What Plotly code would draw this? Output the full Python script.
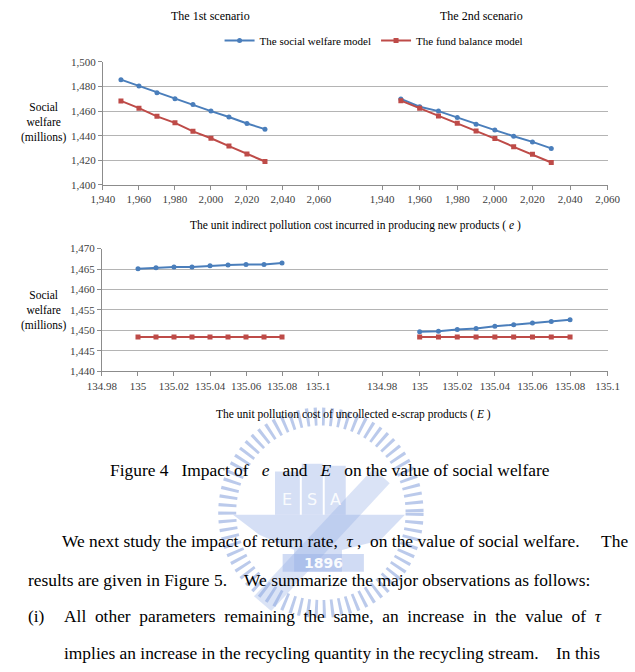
import plotly.graph_objects as go

W, H = 635, 672

# ---------------- data ----------------
e_vals = [1950, 1960, 1970, 1980, 1990, 2000, 2010, 2020, 2030]
s1_e_social = [1485.6, 1480.5, 1474.9, 1470.1, 1465.3, 1460.0, 1455.2, 1449.9, 1445.3]
s1_e_fund = [1468.3, 1462.4, 1455.7, 1450.4, 1443.5, 1437.9, 1431.5, 1425.1, 1418.9]
s2_e_social = [1469.9, 1463.5, 1460.0, 1454.7, 1449.3, 1444.5, 1439.5, 1434.9, 1429.6]
s2_e_fund = [1468.5, 1462.4, 1456.0, 1450.1, 1443.7, 1437.6, 1430.9, 1424.8, 1418.1]

E_vals = [135.00, 135.01, 135.02, 135.03, 135.04, 135.05, 135.06, 135.07, 135.08]
s1_E_social = [1465.1, 1465.3, 1465.5, 1465.5, 1465.8, 1466.0, 1466.1, 1466.1, 1466.5]
s1_E_fund = [1448.4, 1448.4, 1448.4, 1448.4, 1448.4, 1448.4, 1448.4, 1448.4, 1448.4]
s2_E_social = [1449.7, 1449.8, 1450.2, 1450.5, 1451.0, 1451.4, 1451.8, 1452.2, 1452.6]
s2_E_fund = [1448.4, 1448.4, 1448.4, 1448.4, 1448.4, 1448.4, 1448.4, 1448.4, 1448.4]

e_ticks = [1940, 1960, 1980, 2000, 2020, 2040, 2060]
E_ticks = [134.98, 135.00, 135.02, 135.04, 135.06, 135.08, 135.10]
E_ticktext = ["134.98", "135", "135.02", "135.04", "135.06", "135.08", "135.1"]
top_yticks = [1400, 1420, 1440, 1460, 1480, 1500]
bot_yticks = [1440, 1445, 1450, 1455, 1460, 1465, 1470]

series_names = ["The social welfare model", "The fund balance model"]
BLUE = "#4A7EBB"
RED = "#BE4B48"

def px(x):
    return x / W

def py(y):
    return 1 - y / H

fig = go.Figure()

panels = [
    ("x", "y", e_vals, s1_e_social, s1_e_fund, True),
    ("x2", "y2", e_vals, s2_e_social, s2_e_fund, False),
    ("x3", "y3", E_vals, s1_E_social, s1_E_fund, False),
    ("x4", "y4", E_vals, s2_E_social, s2_E_fund, False),
]
for xa, ya, xs, soc, fund, leg in panels:
    fig.add_trace(go.Scatter(x=xs, y=soc, xaxis=xa, yaxis=ya, mode="lines+markers",
                             name=series_names[0], showlegend=leg,
                             line=dict(color=BLUE, width=2),
                             marker=dict(symbol="circle", size=5, color=BLUE)))
    fig.add_trace(go.Scatter(x=xs, y=fund, xaxis=xa, yaxis=ya, mode="lines+markers",
                             name=series_names[1], showlegend=leg,
                             line=dict(color=RED, width=2),
                             marker=dict(symbol="square", size=5, color=RED)))

tickfont = dict(family="Liberation Serif", size=11, color="#404040")
GRID = "#B4B4B4"
AXL = "#8C8C8C"

def xaxis(dom, rng, tv, tt=None, anchor="y", fmt=",d"):
    d = dict(domain=dom, range=rng, tickvals=tv, showgrid=False, zeroline=False,
             showline=True, linecolor=AXL, linewidth=1, ticks="outside", ticklen=4,
             tickcolor=AXL, tickfont=tickfont, anchor=anchor, fixedrange=True)
    if tt is not None:
        d["ticktext"] = tt
    else:
        d["tickformat"] = fmt
    return d

def yaxis(dom, rng, tv, anchor, showlabels=True):
    return dict(domain=dom, range=rng, tickvals=tv, showgrid=True, gridcolor=GRID,
                gridwidth=1, zeroline=False, showline=showlabels, linecolor=AXL,
                ticks="outside" if showlabels else "", ticklen=4, tickcolor=AXL,
                showticklabels=showlabels, tickformat=",d", tickfont=tickfont,
                anchor=anchor, fixedrange=True)

xl, xm, xr = 92, 384, 620
top_dom = [py(182), py(57)]
bot_dom = [py(372), py(247)]

# left panels extend across the gap so gridlines run continuously
left_e_max = 1940 + (xm - xl) / ((318 - 92) / 120)
left_E_max = 134.98 + (xm - 91) / ((317 - 91) / 0.12)

fig.update_layout(
    xaxis=xaxis([px(xl), px(xm)], [1940, left_e_max], e_ticks, anchor="y"),
    xaxis2=xaxis([px(xm), px(xr)], [1940, 2060], e_ticks, anchor="y2"),
    xaxis3=xaxis([px(91), px(xm)], [134.98, left_E_max], E_ticks, E_ticktext, anchor="y3"),
    xaxis4=xaxis([px(xm), px(xr)], [134.98, 135.10], E_ticks, E_ticktext, anchor="y4"),
    yaxis=yaxis(top_dom, [1400, 1500], top_yticks, "x"),
    yaxis2=yaxis(top_dom, [1400, 1500], top_yticks, "x2", False),
    yaxis3=yaxis(bot_dom, [1440, 1470], bot_yticks, "x3"),
    yaxis4=yaxis(bot_dom, [1440, 1470], bot_yticks, "x4", False),
)

# ---------- watermark emblem (faint) ----------
cx, cy, r = 320, 516, 98
WM = "rgba(120,150,215,0.50)"
FILL = "rgba(150,175,230,0.40)"
shapes = [
    dict(type="circle", xref="paper", yref="paper", layer="below",
         x0=px(cx - r), x1=px(cx + r), y0=py(cy + r), y1=py(cy - r),
         line=dict(color=WM, width=18, dash="3px,5px")),
    # anvil
    dict(type="path", xref="paper", yref="paper", layer="below",
         path=f"M {px(cx-92)},{py(cy+2)} L {px(cx+88)},{py(cy+2)} L {px(cx+62)},{py(cy+28)} "
              f"L {px(cx+22)},{py(cy+38)} L {px(cx+22)},{py(cy+60)} L {px(cx-28)},{py(cy+60)} "
              f"L {px(cx-28)},{py(cy+38)} L {px(cx-65)},{py(cy+22)} Z",
         fillcolor=FILL, line=dict(width=0)),
    # books
    dict(type="rect", xref="paper", yref="paper", layer="below",
         x0=px(cx - 48), x1=px(cx - 22), y0=py(cy + 2), y1=py(cy - 42),
         fillcolor=FILL, line=dict(width=0)),
    dict(type="rect", xref="paper", yref="paper", layer="below",
         x0=px(cx - 20), x1=px(cx + 2), y0=py(cy + 2), y1=py(cy - 50),
         fillcolor=FILL, line=dict(width=0)),
    dict(type="rect", xref="paper", yref="paper", layer="below",
         x0=px(cx + 4), x1=px(cx + 26), y0=py(cy + 2), y1=py(cy - 48),
         fillcolor=FILL, line=dict(width=0)),
    # hammer handle
    dict(type="path", xref="paper", yref="paper", layer="below",
         path=f"M {px(cx-70)},{py(cy+85)} L {px(cx+55)},{py(cy-45)} L {px(cx+72)},{py(cy-30)} "
              f"L {px(cx-52)},{py(cy+100)} Z",
         fillcolor="rgba(150,175,230,0.35)", line=dict(width=0)),
    # 1896 band
    dict(type="rect", xref="paper", yref="paper", layer="below",
         x0=px(cx - 40), x1=px(cx + 45), y0=py(cy + 60), y1=py(cy + 42),
         fillcolor="rgba(150,175,230,0.45)", line=dict(width=0)),
]
fig.update_layout(shapes=shapes)

serif = "Liberation Serif"
ann = []
def text(x, y, s, size=11, xanchor="center", color="#000000", family=serif):
    ann.append(dict(x=px(x), y=py(y), xref="paper", yref="paper", text=s, showarrow=False,
                    xanchor=xanchor, yanchor="middle", align="center",
                    font=dict(family=family, size=size, color=color)))

# emblem letters (faint, below the caption line)
text(cx - 35, cy - 14, "E", size=16, color="rgba(255,255,255,0.9)", family="DejaVu Sans")
text(cx - 9, cy - 14, "S", size=16, color="rgba(255,255,255,0.9)", family="DejaVu Sans")
text(cx + 15, cy - 14, "A", size=16, color="rgba(255,255,255,0.9)", family="DejaVu Sans")
text(cx + 3, cy + 51, "<b>1896</b>", size=14, color="rgba(255,255,255,0.95)", family="DejaVu Sans")

text(205, 10, "The 1st scenario", size=12)
text(488, 10, "The 2nd scenario", size=12)
text(30, 119, "Social<br>welfare<br>(millions)", size=11.5)
text(30, 310, "Social<br>welfare<br>(millions)", size=11.5)
text(356, 224, "The unit indirect pollution cost incurred in producing new products ( <i>e</i> )", size=11.5)
text(354, 416, "The unit pollution cost of uncollected e-scrap products ( <i>E</i> )", size=11.5)

BODY = 17.4
text(330, 472, "Figure 4   Impact of   <i>e</i>   and   <i>E</i>   on the value of social welfare", size=BODY)
text(47, 545, "We next study the impact of return rate,  <i>τ</i> ,  on the value of social welfare.     The",
     size=BODY, xanchor="left")
text(12, 584, "results are given in Figure 5.    We summarize the major observations as follows:",
     size=BODY, xanchor="left")
text(12, 621, "(i)", size=BODY, xanchor="left")
text(49, 621, "All  other  parameters  remaining  the  same,  an  increase  in  the  value  of  <i>τ</i>",
     size=BODY, xanchor="left")
text(49, 659, "implies an increase in the recycling quantity in the recycling stream.    In this",
     size=BODY, xanchor="left")

fig.update_layout(
    annotations=ann,
    width=W, height=H,
    margin=dict(l=0, r=0, t=0, b=0),
    paper_bgcolor="white", plot_bgcolor="white",
    showlegend=True,
    legend=dict(orientation="h", x=px(214), y=py(35), xanchor="left", yanchor="middle",
                font=dict(family=serif, size=11, color="#000000"),
                bgcolor="rgba(0,0,0,0)", itemwidth=30, tracegroupgap=0),
)

fig.write_html(
    "out.html",
    post_script="document.body.style.margin='0';document.documentElement.style.overflow='hidden';",
)
